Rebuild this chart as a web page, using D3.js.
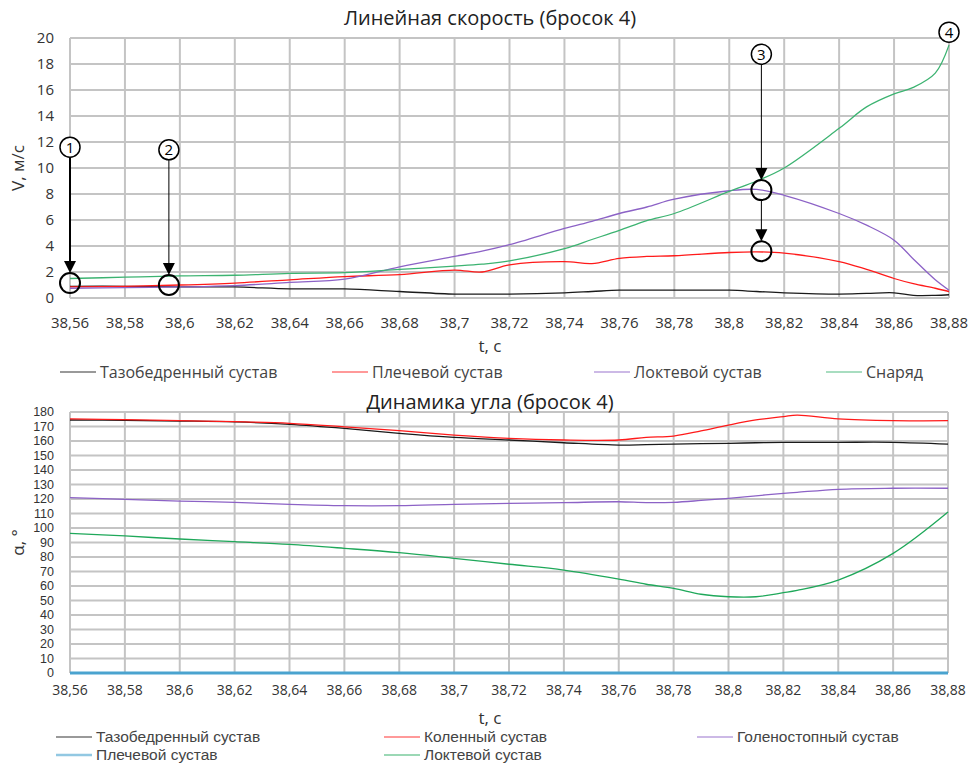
<!DOCTYPE html>
<html>
<head>
<meta charset="utf-8">
<script src="https://cdn.jsdelivr.net/npm/d3@7"></script>
<style>
body { margin: 0; background: #fff; }
text { font-family: "Open Sans", "Noto Sans", sans-serif; fill: #333; }
.tight { font-family: "Liberation Sans", Arial, sans-serif; }
</style>
</head>
<body>
<script>
// ---- top chart: linear speed, m/s ----
var tTop = [38.56, 38.58, 38.6, 38.62, 38.64, 38.66, 38.68, 38.7, 38.71, 38.72, 38.74, 38.75, 38.76, 38.77, 38.78, 38.8, 38.81, 38.82, 38.84, 38.85, 38.86, 38.867, 38.875, 38.88];
var hipV =      [0.9, 0.9, 0.85, 0.85, 0.7, 0.7, 0.5, 0.3, 0.3, 0.3, 0.4, 0.5, 0.6, 0.6, 0.6, 0.6, 0.5, 0.4, 0.3, 0.35, 0.4, 0.2, 0.2, 0.25];
var shoulderV = [0.85, 0.9, 1.0, 1.15, 1.4, 1.65, 1.8, 2.15, 2.0, 2.55, 2.8, 2.65, 3.05, 3.2, 3.25, 3.5, 3.55, 3.45, 2.8, 2.2, 1.5, 1.1, 0.75, 0.5];
var elbowV =    [0.75, 0.8, 0.85, 0.95, 1.2, 1.45, 2.4, 3.2, 3.6, 4.1, 5.35, 5.9, 6.5, 7.0, 7.6, 8.25, 8.35, 7.9, 6.5, 5.6, 4.45, 3.0, 1.4, 0.6];
var shotV =     [1.5, 1.6, 1.7, 1.75, 1.9, 1.95, 2.2, 2.45, 2.6, 2.85, 3.8, 4.5, 5.2, 5.95, 6.5, 8.2, 9.0, 10.0, 13.05, 14.7, 15.7, 16.2, 17.3, 19.45];
var topNames = ["Тазобедренный сустав", "Плечевой сустав", "Локтевой сустав", "Снаряд"];

// ---- bottom chart: joint angle, degrees ----
var tBot = [38.56, 38.58, 38.6, 38.62, 38.64, 38.66, 38.68, 38.7, 38.72, 38.74, 38.76, 38.77, 38.78, 38.79, 38.8, 38.81, 38.82, 38.825, 38.84, 38.86, 38.88];
var hipA =      [174.5, 174.2, 173.8, 173.2, 171.5, 168.7, 165.3, 162.5, 160.7, 158.8, 157.2, 157.5, 157.9, 158.2, 158.4, 158.8, 159.1, 159.1, 159.1, 159.1, 157.9];
var kneeA =     [175.2, 174.7, 174.0, 173.3, 172.2, 169.8, 167.1, 164.1, 161.8, 160.7, 160.7, 162.5, 163.4, 167.0, 171.0, 174.5, 176.8, 177.9, 175.2, 174.0, 174.0];
var ankleA =    [120.9, 119.8, 118.6, 117.7, 116.3, 115.4, 115.4, 116.3, 117.0, 117.5, 118.1, 117.5, 117.7, 119.0, 120.5, 122.2, 123.9, 124.6, 126.7, 127.4, 127.4];
var shoulderA = [0, 0, 0, 0, 0, 0, 0, 0, 0, 0, 0, 0, 0, 0, 0, 0, 0, 0, 0, 0, 0];
var elbowA =    [96.3, 94.5, 92.4, 90.6, 88.7, 86.0, 83.0, 79.1, 75.0, 71.0, 64.8, 61.2, 58.4, 54.3, 52.6, 52.6, 55.4, 57.0, 64.1, 82.5, 111.0];
var botNames = ["Тазобедренный сустав", "Коленный сустав", "Голеностопный сустав", "Плечевой сустав", "Локтевой сустав"];

var xTicks = [38.56, 38.58, 38.6, 38.62, 38.64, 38.66, 38.68, 38.7, 38.72, 38.74, 38.76, 38.78, 38.8, 38.82, 38.84, 38.86, 38.88];
var topYTicks = [0, 2, 4, 6, 8, 10, 12, 14, 16, 18, 20];
var botYTicks = [0, 10, 20, 30, 40, 50, 60, 70, 80, 90, 100, 110, 120, 130, 140, 150, 160, 170, 180];

// numbered markers on the speed chart: label position and target circles
var markT =      [38.56, 38.596, 38.8117, 38.88];
var markLabelV = [11.6, 11.4, 18.75, 20.45];
var markTargets = [[1.15], [1.0], [8.3, 3.6], []];

var svg = d3.select("body").append("svg").attr("width", 971).attr("height", 764);
var fmt = function(d){ return String(d).replace(".", ","); };

function drawPanel(o) {
  var x = d3.scaleLinear().domain([38.56, 38.88]).range([o.left, o.right]);
  var y = d3.scaleLinear().domain([0, o.ymax]).range([o.bottom, o.top]);
  var g = svg.append("g");

  g.selectAll(".hg").data(o.yTicks).enter().append("line")
    .attr("x1", o.left).attr("x2", o.right)
    .attr("y1", function(d){ return y(d); }).attr("y2", function(d){ return y(d); })
    .attr("stroke", "#c4c4c4").attr("stroke-width", 2);
  g.selectAll(".vg").data(xTicks).enter().append("line")
    .attr("x1", function(d){ return x(d); }).attr("x2", function(d){ return x(d); })
    .attr("y1", o.top).attr("y2", o.bottom)
    .attr("stroke", "#c4c4c4").attr("stroke-width", 2);

  g.selectAll(".yl").data(o.yTicks).enter().append("text")
    .attr("class", o.tight ? "tight" : null)
    .attr("x", o.left - 16).attr("y", function(d){ return y(d); })
    .attr("dy", "0.35em").attr("text-anchor", "end")
    .style("font-size", o.yFont + "px").text(function(d){ return d; });
  g.selectAll(".xl").data(xTicks).enter().append("text")
    .attr("x", function(d){ return x(d); }).attr("y", o.xLabelY)
    .attr("text-anchor", "middle").style("font-size", o.xFont + "px")
    .text(fmt);

  g.append("text").attr("x", 490).attr("y", o.titleY).attr("text-anchor", "middle")
    .style("font-size", "20px").style("fill", "#222").text(o.title);
  g.append("text").attr("x", 490).attr("y", o.xTitleY).attr("text-anchor", "middle")
    .style("font-size", "17px").text("t, с");
  g.append("text").attr("transform", "translate(" + o.yTitleX + "," + ((o.top + o.bottom) / 2) + ") rotate(-90)")
    .attr("text-anchor", "middle").style("font-size", "17px").text(o.yTitle);

  var line = d3.line().curve(d3.curveCatmullRom.alpha(0.5))
    .x(function(d){ return x(d[0]); }).y(function(d){ return y(d[1]); });
  o.series.forEach(function(s){
    g.append("path").datum(d3.zip(o.t, s.values))
      .attr("d", line).attr("fill", "none")
      .attr("stroke", s.color).attr("stroke-width", s.width || 1.3);
  });

  o.series.forEach(function(s){
    var lx = s.lx, ly = s.ly;
    g.append("line").attr("x1", lx).attr("x2", lx + 36).attr("y1", ly).attr("y2", ly)
      .attr("stroke", s.color).attr("stroke-opacity", 0.6).attr("stroke-width", s.width ? 2.5 : 1.5);
    g.append("text").attr("class", o.tight ? "tight" : null)
      .attr("x", lx + 40).attr("y", ly).attr("dy", "0.35em")
      .style("font-size", o.legendFont + "px").style("fill", "#444").text(s.name);
  });
  return { x: x, y: y, g: g };
}

var top1 = drawPanel({
  left: 70, right: 949, top: 38, bottom: 298, ymax: 20,
  yTicks: topYTicks, yFont: 15, xFont: 15, xLabelY: 328, legendFont: 16,
  title: "Линейная скорость (бросок 4)", titleY: 25,
  xTitleY: 352, yTitle: "V, м/с", yTitleX: 24,
  t: tTop,
  series: [
    { name: topNames[0], values: hipV, color: "#1a1a1a", lx: 60, ly: 372 },
    { name: topNames[1], values: shoulderV, color: "#ff1a1a", lx: 332, ly: 372 },
    { name: topNames[2], values: elbowV, color: "#8c62c6", lx: 594, ly: 372 },
    { name: topNames[3], values: shotV, color: "#3cb371", lx: 826, ly: 372 }
  ]
});

drawPanel({
  left: 70, right: 948, top: 412, bottom: 673, ymax: 180,
  yTicks: botYTicks, yFont: 12.5, xFont: 14, xLabelY: 695, legendFont: 15.5, tight: true,
  title: "Динамика угла (бросок 4)", titleY: 409,
  xTitleY: 724, yTitle: "α, °", yTitleX: 24,
  t: tBot,
  series: [
    { name: botNames[0], values: hipA, color: "#1a1a1a", lx: 56, ly: 737 },
    { name: botNames[1], values: kneeA, color: "#ff1a1a", lx: 384, ly: 737 },
    { name: botNames[2], values: ankleA, color: "#8c62c6", lx: 697, ly: 737 },
    { name: botNames[3], values: shoulderA, color: "#4aa3cf", width: 3, lx: 56, ly: 755 },
    { name: botNames[4], values: elbowA, color: "#1fa85a", lx: 384, ly: 755 }
  ]
});

// numbered markers with arrows
var mx = top1.x, my = top1.y, mg = top1.g;
var R = 10;
markT.forEach(function(t, i){
  var cx = mx(t);
  var from = my(markLabelV[i]) + R;
  markTargets[i].forEach(function(v){
    var cy = my(v);
    var tip = cy - R;
    mg.append("line").attr("x1", cx).attr("x2", cx).attr("y1", from).attr("y2", tip - 10)
      .attr("stroke", "#000").attr("stroke-width", i === 0 ? 2 : 1);
    mg.append("path").attr("d", "M" + (cx - 6) + "," + (tip - 12) + "L" + (cx + 6) + "," + (tip - 12) + "L" + cx + "," + tip + "Z")
      .attr("fill", "#000");
    mg.append("circle").attr("cx", cx).attr("cy", cy).attr("r", R)
      .attr("fill", "none").attr("stroke", "#000").attr("stroke-width", 2);
    from = cy + R;
  });
  mg.append("circle").attr("cx", cx).attr("cy", my(markLabelV[i])).attr("r", R)
    .attr("fill", "#fff").attr("stroke", "#000").attr("stroke-width", 1.5);
  mg.append("text").attr("x", cx).attr("y", my(markLabelV[i])).attr("dy", "0.36em")
    .attr("text-anchor", "middle").style("font-size", "15px").style("fill", "#000").text(i + 1);
});
</script>
</body>
</html>
